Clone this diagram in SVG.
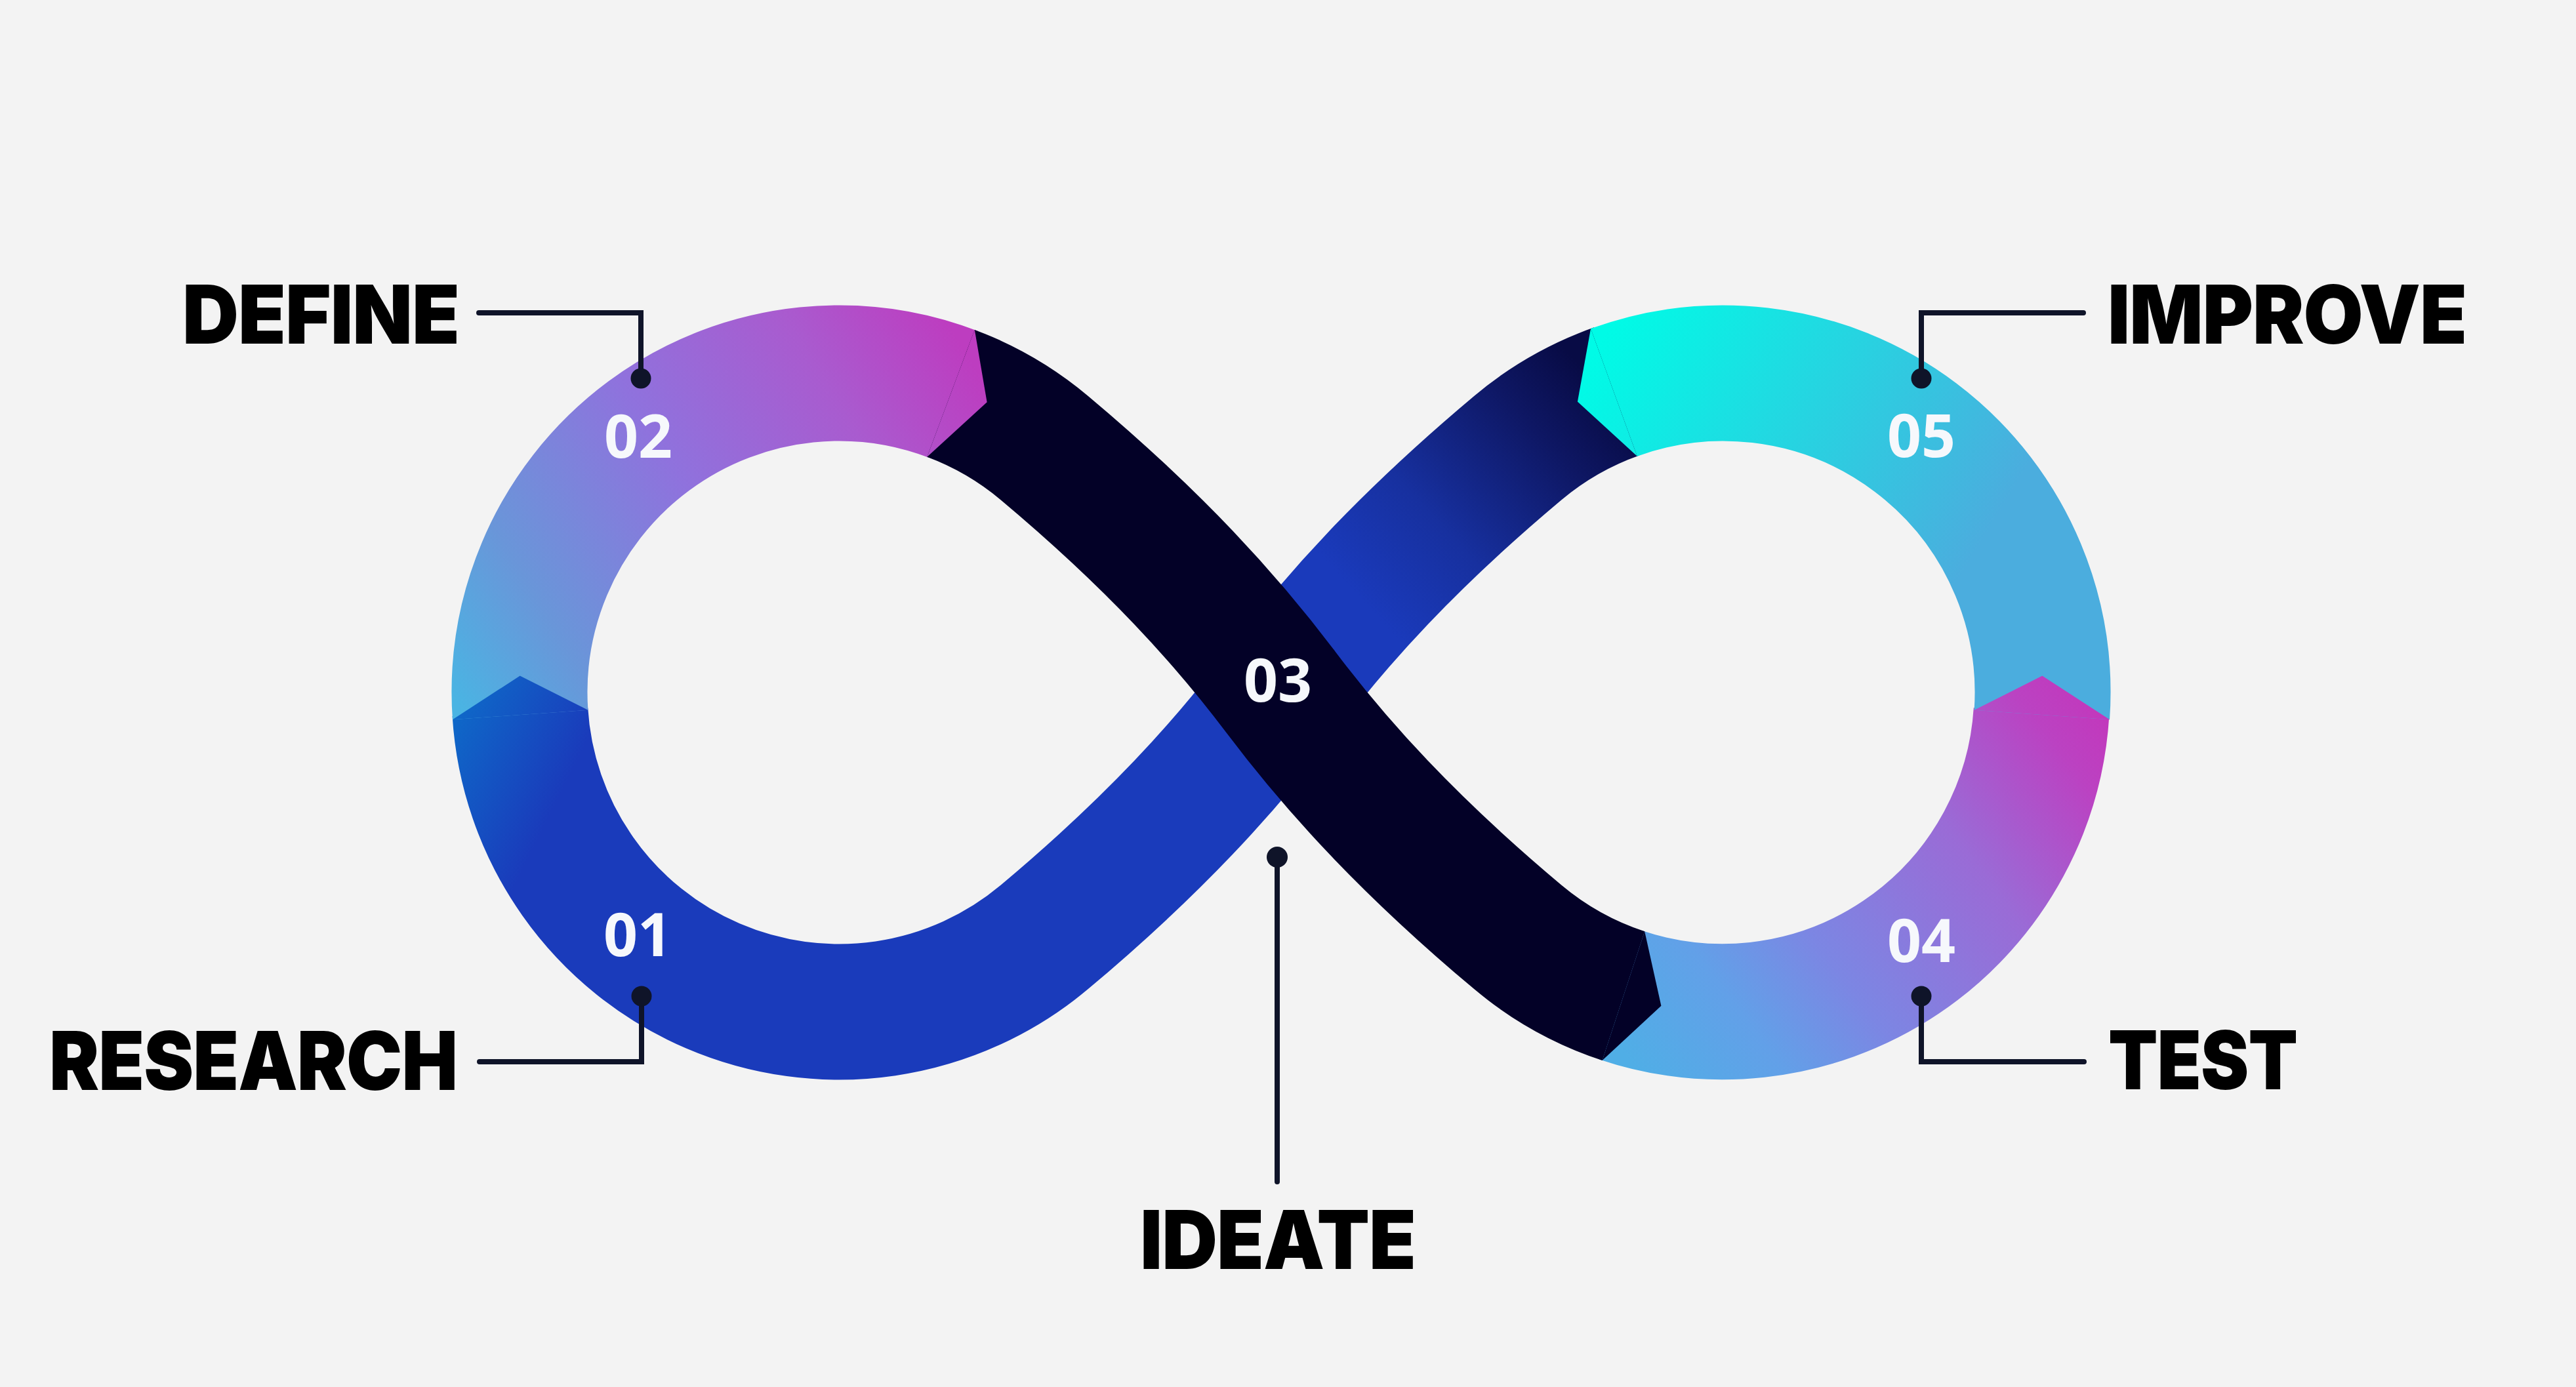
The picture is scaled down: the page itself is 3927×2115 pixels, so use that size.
<svg xmlns="http://www.w3.org/2000/svg" width="3927" height="2115" viewBox="0 0 3927 2115">
<style>
.band{fill:none;stroke-width:207;stroke-linecap:butt;stroke-linejoin:round}
.lbl{font-family:Inter,Roboto,Lato,"Liberation Sans",sans-serif;font-weight:900;font-size:124px;letter-spacing:-1px;fill:#000}
.num{font-family:"Open Sans","Noto Sans","Liberation Sans",sans-serif;font-weight:700;font-size:91px;fill:#f6f8fc;text-anchor:middle}
.lead{fill:none;stroke:#0f1429;stroke-width:8;stroke-linecap:round;stroke-linejoin:miter}
.dot{fill:#0f1429}
</style>
<defs>
<linearGradient id="g01" gradientUnits="userSpaceOnUse" x1="680" y1="1060" x2="880" y2="1160">
<stop offset="0" stop-color="#0d6eca"/><stop offset="1" stop-color="#1a3bbb"/>
</linearGradient>
<linearGradient id="g02" gradientUnits="userSpaceOnUse" x1="700" y1="1080" x2="1500" y2="580">
<stop offset="0" stop-color="#4ab4e3"/><stop offset="0.2" stop-color="#6996d9"/><stop offset="0.5" stop-color="#8f72dd"/><stop offset="0.78" stop-color="#a95bcf"/><stop offset="1" stop-color="#bd3dc0"/>
</linearGradient>
<linearGradient id="g04" gradientUnits="userSpaceOnUse" x1="2470" y1="1600" x2="3190" y2="1060">
<stop offset="0" stop-color="#50aee6"/><stop offset="0.2" stop-color="#62a0e8"/><stop offset="0.375" stop-color="#7c86e3"/><stop offset="0.67" stop-color="#9a6bd6"/><stop offset="0.9" stop-color="#bb42c2"/><stop offset="1" stop-color="#c238bc"/>
</linearGradient>
<linearGradient id="g05" gradientUnits="userSpaceOnUse" x1="2440" y1="520" x2="3000" y2="860">
<stop offset="0" stop-color="#00fbe6"/><stop offset="0.5" stop-color="#26d4e1"/><stop offset="1" stop-color="#4badde"/>
</linearGradient>
<linearGradient id="g06" gradientUnits="userSpaceOnUse" x1="2080" y1="920" x2="2440" y2="590">
<stop offset="0" stop-color="#1a3abb"/><stop offset="0.34" stop-color="#17309f"/><stop offset="0.76" stop-color="#0e1764"/><stop offset="1" stop-color="#080b45"/>
</linearGradient>
</defs>
<rect width="3927" height="2115" fill="#f3f3f3"/>

<g id="loop">
<path id="seg-blue-upper" class="band" stroke="url(#g06)" d="M2464.44 596.93 A487 487 0 0 0 2313.96 682.93 C2145.43 824.34 2037.25 944.19 1953 1056"/>
<path id="seg-01" class="band" stroke="url(#g01)" d="M1953 1056 C1868.75 1167.81 1760.57 1287.66 1592.04 1429.07 A487 487 0 0 1 792.91 1085.73"/>
<path id="seg-02" class="band" stroke="url(#g02)" d="M793.19 1089.97 A487 487 0 0 1 1453.53 601.35"/>
<path id="seg-04" class="band" stroke="url(#g04)" d="M2470.86 1517.29 A487 487 0 0 0 3112.09 1085.73"/>
<path id="seg-05" class="band" stroke="url(#g05)" d="M3112.81 1089.97 A487 487 0 0 0 2460.44 598.37"/>
<path id="seg-03" class="band" stroke="#030127" d="M1449.55 599.84 A487 487 0 0 1 1592.04 682.93 C1760.57 824.34 1868.75 944.19 1953 1056 C2037.25 1167.81 2145.43 1287.66 2313.96 1429.07 A487 487 0 0 0 2474.89 1518.64"/>
<polygon id="tip-01" fill="url(#g01)" points="689.94,1097.19 792.67,1030.51 896.43,1082.75"/>
<polygon id="tip-02" fill="url(#g02)" points="1485.80,502.89 1504.6,613.2 1413.30,696.79"/>
<polygon id="tip-03" fill="#030127" points="2442.57,1616.96 2532.41,1533.73 2507.22,1420.31"/>
<polygon id="tip-04" fill="url(#g04)" points="3216.06,1097.19 3113.33,1030.51 3009.57,1082.75"/>
<polygon id="tip-05" fill="url(#g05)" points="2425.04,501.11 2404.91,612.5 2495.84,695.63"/>
</g>

<g id="numbers">
<text class="num" x="972" y="1458">01</text>
<text class="num" x="973" y="698">02</text>
<text class="num" x="1948" y="1070">03</text>
<text class="num" x="2929" y="1467">04</text>
<text class="num" x="2929" y="697">05</text>
</g>

<g id="connectors">
<path class="lead" d="M730 477 H977 V577"/>
<circle class="dot" cx="977" cy="577" r="15.5"/>
<path class="lead" d="M731 1619 H978 V1519"/>
<circle class="dot" cx="978" cy="1519" r="15.5"/>
<path class="lead" d="M1947 1307 V1802"/>
<circle class="dot" cx="1947" cy="1307" r="16"/>
<path class="lead" d="M3176 477 H2929 V577"/>
<circle class="dot" cx="2929" cy="577" r="15.5"/>
<path class="lead" d="M3177 1619 H2929 V1519"/>
<circle class="dot" cx="2929" cy="1519" r="15.5"/>
</g>

<g id="node-define"><text class="lbl" x="278" y="524" textLength="422" lengthAdjust="spacingAndGlyphs">DEFINE</text></g>
<g id="node-research"><text class="lbl" x="75" y="1662" textLength="622" lengthAdjust="spacingAndGlyphs">RESEARCH</text></g>
<g id="node-ideate"><text class="lbl" x="1738" y="1935" textLength="420" lengthAdjust="spacingAndGlyphs">IDEATE</text></g>
<g id="node-improve"><text class="lbl" x="3213" y="524" textLength="547" lengthAdjust="spacingAndGlyphs">IMPROVE</text></g>
<g id="node-test"><text class="lbl" x="3214" y="1661" textLength="288" lengthAdjust="spacingAndGlyphs">TEST</text></g>
</svg>
